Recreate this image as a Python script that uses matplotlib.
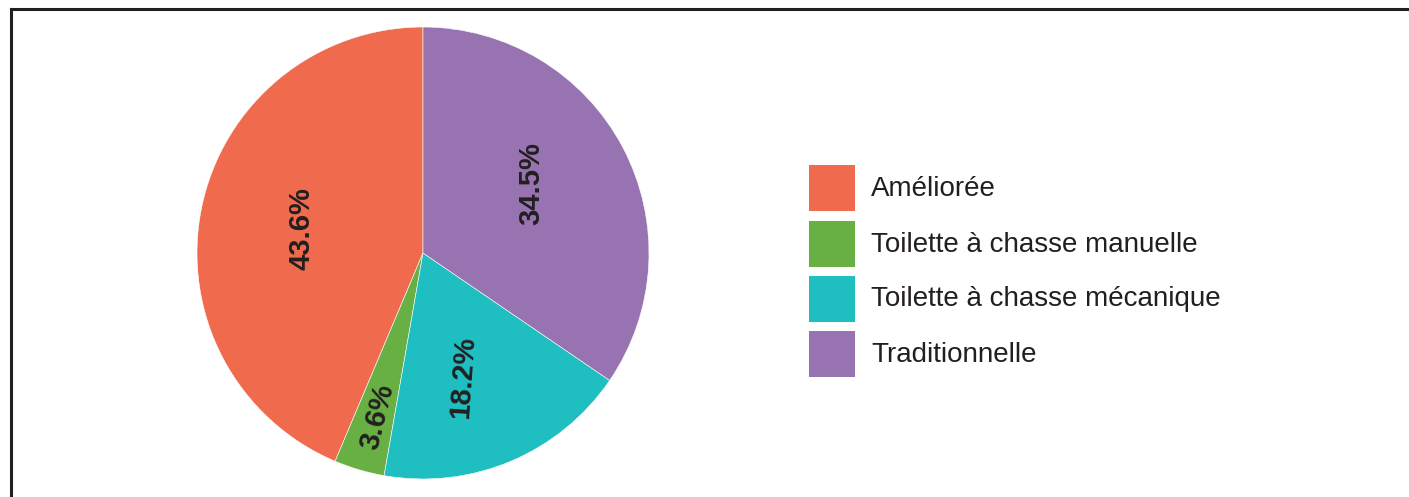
import numpy as np
import matplotlib
matplotlib.use("Agg")
import matplotlib.pyplot as plt
from matplotlib.patches import Rectangle
from matplotlib.lines import Line2D

# Type de toilettes utilisées par les ménages (%)
categories = ["Améliorée", "Toilette à chasse manuelle",
              "Toilette à chasse mécanique", "Traditionnelle"]
valeurs = [43.6, 3.6, 18.2, 34.5]
couleurs = ["#F06A4E", "#68AF44", "#1FBEC1", "#9873B1"]

W, H = 1409, 497
texte = "#231F20"
plt.rcParams['font.family'] = ['Liberation Sans', 'DejaVu Sans']

fig = plt.figure(figsize=(W / 100, H / 100), dpi=100)

# camembert : centre (423, 253) px, rayon 226 px
cx, cy, r = 423, 253, 226
ax = fig.add_axes([(cx - r) / W, 1 - (cy + r) / H, 2 * r / W, 2 * r / H])
wedges, _ = ax.pie(valeurs, colors=couleurs, startangle=90, counterclock=True,
                   radius=1, wedgeprops=dict(edgecolor="white", linewidth=0.4))
ax.set_xlim(-1, 1)
ax.set_ylim(-1, 1)
ax.set_axis_off()

# étiquettes en pourcentage, tournées verticalement
rayons = [0.55, 0.75, 0.58, 0.57]
rotations = [90, 76, 86, 90]
decalages = [0, 1, -5, 5]
for w, v, rr, rot, d in zip(wedges, valeurs, rayons, rotations, decalages):
    ang = np.deg2rad((w.theta1 + w.theta2) / 2 + d)
    ax.text(rr * np.cos(ang), rr * np.sin(ang), f"{v}%", rotation=rot,
            ha="center", va="center", fontsize=21, fontweight="bold",
            color=texte, rotation_mode="anchor")

# légende dessinée à la main
y_hauts = [165, 221, 276, 331]
for lab, col, yt in zip(categories, couleurs, y_hauts):
    fig.patches.append(Rectangle((809 / W, 1 - (yt + 46) / H), 46 / W, 46 / H,
                                 transform=fig.transFigure, facecolor=col,
                                 edgecolor="none"))
    fig.text(871 / W, 1 - (yt + 30.5) / H, lab, fontsize=20, color=texte,
             ha="left", va="baseline")

# cadre (haut et gauche)
fig.add_artist(Line2D([11 / W, 1], [1 - 8.5 / H, 1 - 8.5 / H],
                      transform=fig.transFigure, color=texte, lw=2.2))
fig.add_artist(Line2D([11 / W, 11 / W], [0, 1 - 8.5 / H],
                      transform=fig.transFigure, color=texte, lw=2.2))

fig.savefig("out.png", dpi=100)
